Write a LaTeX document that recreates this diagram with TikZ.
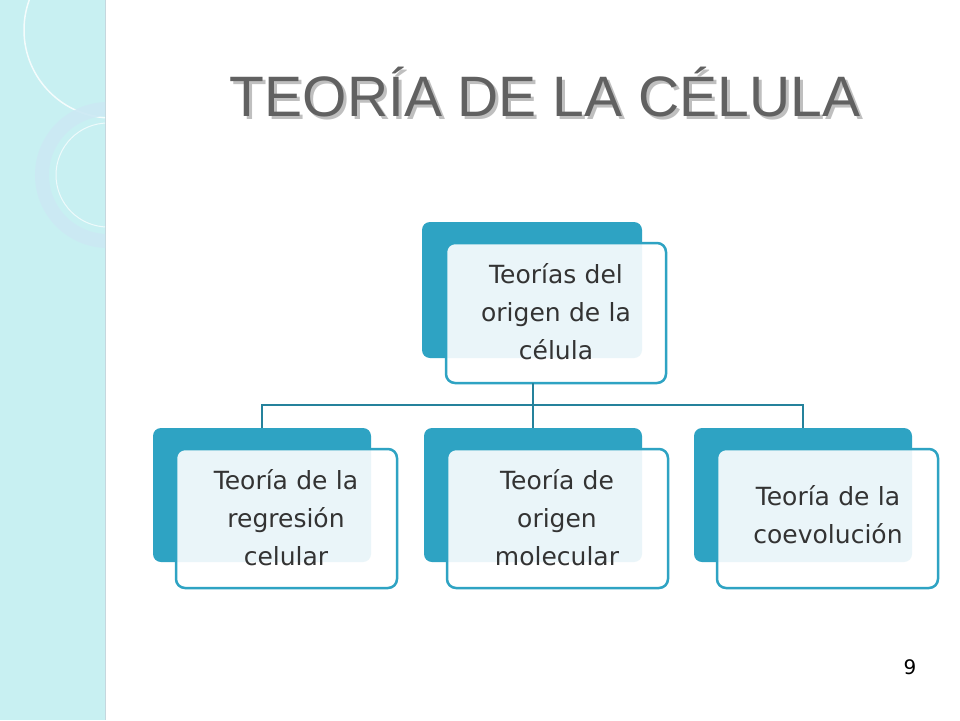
\documentclass[tikz,border=0pt]{standalone}
\usepackage{fontspec}
\setmainfont{DejaVu Sans}
\newfontfamily\titlefont{Liberation Sans}
\definecolor{teal1}{HTML}{2EA3C3}
\definecolor{band}{HTML}{C8F0F2}
\definecolor{txt}{HTML}{333333}
\begin{document}
\begin{tikzpicture}[x=1pt,y=-1pt,
  backbox/.style={fill=teal1,rounded corners=8pt},
  frontbox/.style={draw=teal1,line width=2.5pt,fill=white,fill opacity=0.9,text opacity=1,rounded corners=9pt},
  lbl/.style={text=txt,font=\fontsize{25}{38}\selectfont,align=center,text width=215pt},
  conn/.style={draw=teal1!80!black,line width=2pt}]
\useasboundingbox (0,0) rectangle (960,720);
\fill[white] (0,0) rectangle (960,720);
% left band
\fill[band] (0,0) rectangle (105,720);
\draw[cyan!30!gray!40,line width=1pt] (105,0) -- (105,720);
\begin{scope}
\clip (0,0) rectangle (105,720);
\draw[white,opacity=0.8,line width=1.5pt] (112,30) circle (88);
\draw[gray!30!cyan!25,opacity=0.9,line width=14pt] (108,175) circle (66);
\draw[white,opacity=0.7,line width=1pt] (108,175) circle (52);
\end{scope}
% title
\node[font=\titlefont\fontsize{57}{57}\selectfont,text=black!25] (tsh) at (548,95) {TEORÍA DE LA CÉLULA};
\node[font=\titlefont\fontsize{57}{57}\selectfont,text=black!62] (title) at (545,92) {TEORÍA DE LA CÉLULA};
% boxes
\fill[backbox] (422,222) rectangle (642,358);
\draw[frontbox] (446,243) rectangle (666,383);
\node[lbl] (top) at (556,312) {Teorías del\\origen de la\\célula};
\foreach \dx in {0,271,541}{
  \fill[backbox] (153+\dx,428) rectangle (371+\dx,562);
  \draw[frontbox] (176+\dx,449) rectangle (397+\dx,588);
}
\node[lbl] (a) at (286,518) {Teoría de la\\regresión\\celular};
\node[lbl] (b) at (557,518) {Teoría de\\origen\\molecular};
\node[lbl] (c) at (828,515) {Teoría de la\\coevolución};
\coordinate (t0) at (533,383);
\coordinate (ha) at (262,405);
\coordinate (hc) at (803,405);
\coordinate (ea) at (262,428);
\coordinate (eb) at (533,428);
\coordinate (ec) at (803,428);
\draw[conn] (t0) -- (eb);
\draw[conn] (ea) -- (ha) -- (hc) -- (ec);
\node[font=\fontsize{20}{20}\selectfont,text=black] (pg) at (910,667) {9};
\end{tikzpicture}
\end{document}
